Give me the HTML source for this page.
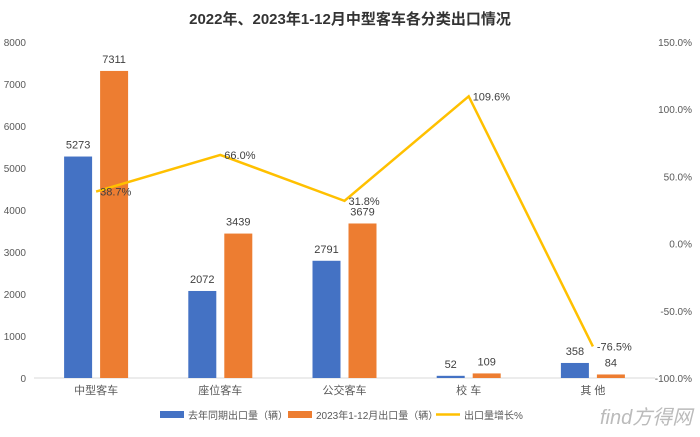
<!DOCTYPE html>
<html><head><meta charset="utf-8"><style>
body{margin:0;background:#fff;width:700px;height:432px;overflow:hidden;font-family:"Liberation Sans","Noto Sans CJK SC",sans-serif;}
svg text{font-family:"Liberation Sans","Noto Sans CJK SC",sans-serif;}
</style></head><body>
<svg id="chart" width="700" height="432">
<text x="350" y="24" text-anchor="middle" font-size="15" font-weight="bold" fill="#333">2022年、2023年1-12月中型客车各分类出口情况</text>
</svg>
<script>
const categories=["中型客车","座位客车","公交客车","校  车","其  他"];
const prevValues=[5273,2072,2791,52,358];
const currValues=[7311,3439,3679,109,84];
const growth=[38.7,66.0,31.8,109.6,-76.5];
const leftTicks=[0,1000,2000,3000,4000,5000,6000,7000,8000];
const rightTicks=[-100,-50,0,50,100,150];
const NS="http://www.w3.org/2000/svg";
const svg=document.getElementById('chart');
const x0=34,bandW=124.2,yBase=378,yTop=42;
const yL=v=>yBase-(v/8000)*(yBase-yTop);
const yR=v=>yBase-((v+100)/250)*(yBase-yTop);
const cx=i=>x0+bandW*(i+0.5);
function mk(t,a,txt){const e=document.createElementNS(NS,t);for(const k in a)e.setAttribute(k,a[k]);if(txt!==undefined)e.textContent=txt;svg.appendChild(e);return e;}
leftTicks.forEach(v=>{const e=mk('text',{x:26,y:yL(v)+4,'text-anchor':'end','font-size':10,fill:'#595959'},v);

});
rightTicks.forEach(v=>{const e=mk('text',{x:692,y:yR(v)+4,'text-anchor':'end','font-size':10,fill:'#595959'},v.toFixed(1)+'%');

});
const ax=mk('line',{x1:x0,x2:x0+bandW*5,y1:yBase,y2:yBase,stroke:'#d9d9d9'});


categories.forEach((c,i)=>{
 const e=mk('text',{x:cx(i),y:394,'text-anchor':'middle','font-size':11,fill:'#595959','xml:space':'preserve'},c);
 
 
 const bw=28;
 const b1=mk('rect',{x:cx(i)-32,y:yL(prevValues[i]),width:bw,height:yBase-yL(prevValues[i]),fill:'#4472c4'});
 
 
 const b2=mk('rect',{x:cx(i)+4,y:yL(currValues[i]),width:bw,height:yBase-yL(currValues[i]),fill:'#ed7d31'});
 
 
 const l1=mk('text',{x:cx(i)-18,y:yL(prevValues[i])-8,'text-anchor':'middle','font-size':11,fill:'#404040'},prevValues[i]);
 
 
 const l2=mk('text',{x:cx(i)+18,y:yL(currValues[i])-8,'text-anchor':'middle','font-size':11,fill:'#404040'},currValues[i]);
 
 
});
const pts=growth.map((g,i)=>cx(i)+','+yR(g)).join(' ');
const line=mk('polyline',{points:pts,fill:'none',stroke:'#ffc000','stroke-width':2.5});


growth.forEach((g,i)=>{
 const e=mk('text',{x:cx(i)+4,y:yR(g)+4,'font-size':11,fill:'#404040'},g.toFixed(1)+'%');
 
 
});
// legend
const lg=[['rect','#4472c4','去年同期出口量（辆）',160],['rect','#ed7d31','2023年1-12月出口量（辆）',288],['line','#ffc000','出口量增长%',436]];
lg.forEach(([t,c,txt,x])=>{
 let m;
 if(t==='rect')m=mk('rect',{x:x,y:411,width:24,height:7,fill:c});
 else m=mk('line',{x1:x,x2:x+24,y1:414.5,y2:414.5,stroke:c,'stroke-width':2.5});
 
 
 const e=mk('text',{x:x+28,y:419,'font-size':10,fill:'#595959'},txt);
 
 
});
const w=mk('text',{x:600,y:424,'font-size':20,fill:'#bbb','font-style':'italic'},'find方得网');


</script>
</body></html>
